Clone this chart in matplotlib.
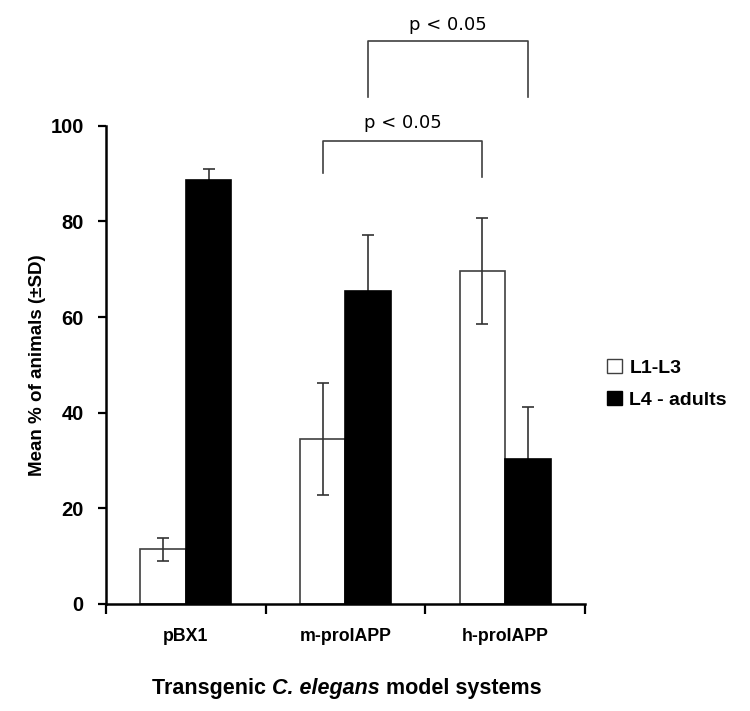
import matplotlib
matplotlib.use("Agg")
import matplotlib.pyplot as plt
import numpy as np
from matplotlib.patches import Patch
from matplotlib.offsetbox import TextArea, HPacker, AnchoredOffsetbox

categories = ["pBX1", "m-proIAPP", "h-proIAPP"]
series_names = ["L1-L3", "L4 - adults"]
l1l3_mean = [11.4, 34.5, 69.7]
l1l3_sd = [2.5, 11.8, 11.1]
l4_mean = [88.7, 65.5, 30.3]
l4_sd = [2.3, 11.7, 11.0]
yticks = [0, 20, 40, 60, 80, 100]

plt.rcParams['font.family'] = ['Liberation Sans', 'DejaVu Sans']

fig = plt.figure(figsize=(7.5, 7.11), dpi=100)
ax = fig.add_axes([0.1413, 0.1505, 0.6387, 0.6725])

x = np.arange(len(categories))
w = 1 / 3.5
ax.bar(x - w / 2, l1l3_mean, w, color="white", edgecolor="#404040", linewidth=1.2, zorder=2)
ax.bar(x + w / 2, l4_mean, w, color="black", edgecolor="black", linewidth=1.2, zorder=2)
ax.errorbar(x - w / 2, l1l3_mean, yerr=l1l3_sd, fmt="none", ecolor="#333333",
            elinewidth=1.2, capsize=4, capthick=1.2, zorder=3)
ax.errorbar(x + w / 2, l4_mean, yerr=l4_sd, fmt="none", ecolor="#333333",
            elinewidth=1.2, capsize=4, capthick=1.2, zorder=1)

ax.set_xlim(-0.5, 2.5)
ax.set_ylim(0, 100)
ax.set_yticks(yticks)
ax.set_yticklabels([str(v) for v in yticks], fontsize=14.5, fontweight="bold")
ax.set_xticks(x)
ax.set_xticklabels(categories, fontsize=12.8, fontweight="bold")
ax.tick_params(axis="x", which="major", length=0, pad=17)
ax.set_xticks([-0.5, 0.5, 1.5, 2.5], minor=True)
ax.tick_params(axis="x", which="minor", length=7, width=1.6, direction="out")
ax.tick_params(axis="y", which="major", length=6, width=1.6, direction="out", pad=10)
for s in ["top", "right"]:
    ax.spines[s].set_visible(False)
for s in ["left", "bottom"]:
    ax.spines[s].set_linewidth(1.8)

ax.set_ylabel("Mean % of animals (±SD)", fontsize=13.5, fontweight="bold", labelpad=3)

# x-axis title with bold italic species name
fs = 15.5
parts = [TextArea("Transgenic ", textprops=dict(fontsize=fs, fontweight="bold")),
         TextArea("C. elegans", textprops=dict(fontsize=fs, fontweight="bold", fontstyle="italic")),
         TextArea(" model systems", textprops=dict(fontsize=fs, fontweight="bold"))]
box = HPacker(children=parts, align="baseline", pad=0, sep=0)
anch = AnchoredOffsetbox(loc="center", child=box, pad=0, frameon=False,
                         bbox_to_anchor=(0.462, 0.032), bbox_transform=fig.transFigure,
                         borderpad=0)
fig.add_artist(anch)

# significance brackets
def bracket(x1, x2, y, yl1, yl2, label, ty):
    ax.plot([x1, x1, x2, x2], [yl1, y, y, yl2], color="#404040", lw=1.2,
            clip_on=False, zorder=4)
    ax.text((x1 + x2) / 2, ty, label, ha="center", va="center",
            fontsize=13, family="DejaVu Sans", clip_on=False)

bracket(1 - w / 2, 2 - w / 2, 96.9, 90.2, 89.4, "p < 0.05", 100.6)
bracket(1 + w / 2, 2 + w / 2, 117.7, 106.0, 106.0, "p < 0.05", 121.0)

handles = [Patch(facecolor="white", edgecolor="#404040", linewidth=1.0),
           Patch(facecolor="black", edgecolor="black")]
leg = fig.legend(handles, series_names, loc="center left", bbox_to_anchor=(0.786, 0.46),
                 frameon=False, prop={"weight": "bold", "size": 14},
                 handlelength=0.75, handleheight=0.75, handletextpad=0.4, labelspacing=0.75)

fig.savefig("out.png", dpi=100)
